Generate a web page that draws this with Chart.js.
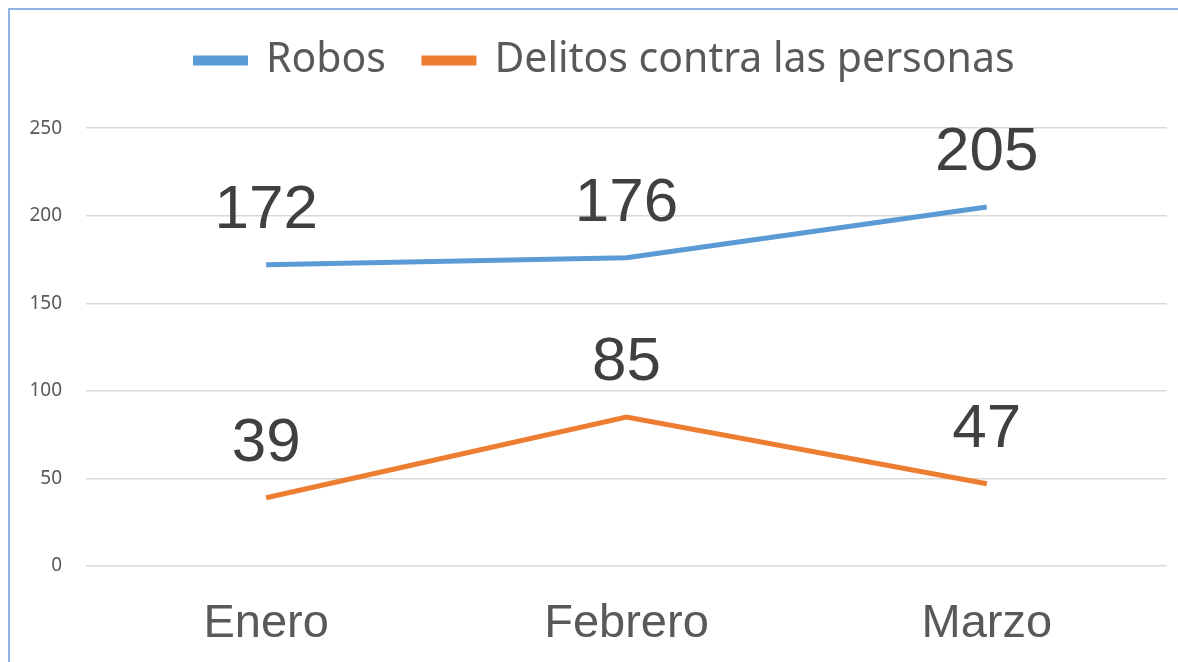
<!DOCTYPE html>
<html>
<head>
<meta charset="utf-8">
<script src="https://cdn.jsdelivr.net/npm/chart.js@4/dist/chart.umd.min.js"></script>
<style>
    html, body { margin: 0; padding: 0; background: #fff; overflow: hidden; }
    body { width: 1178px; height: 662px; position: relative; }
    .chart-box {
        position: absolute; left: 8px; top: 8px;
        width: 1190px; height: 680px;
        border: 2px solid #8db4e2;
    }
    canvas { display: block; }
</style>
</head>
<body>
<div class="chart-box">
    <canvas id="crimeChart" width="1190" height="680"></canvas>
</div>
<script>
const months = ['Enero', 'Febrero', 'Marzo'];
const robos = [172, 176, 205];
const delitosPersonas = [39, 85, 47];
const seriesNames = ['Robos', 'Delitos contra las personas'];
const seriesColors = ['#5b9bd5', '#ed7d31'];

// draws the big value labels above each point
const valueLabels = {
    id: 'valueLabels',
    afterDatasetsDraw(chart) {
        const ctx = chart.ctx;
        ctx.save();
        ctx.font = '62px "Liberation Sans", Arial, sans-serif';
        ctx.fillStyle = '#404040';
        ctx.textAlign = 'center';
        ctx.textBaseline = 'middle';
        chart.data.datasets.forEach((ds, i) => {
            chart.getDatasetMeta(i).data.forEach((pt, j) => {
                ctx.fillText(String(ds.data[j]), pt.x, pt.y - 54);
            });
        });
        ctx.restore();
    }
};

new Chart(document.getElementById('crimeChart'), {
    type: 'line',
    data: {
        labels: months,
        datasets: [
            {
                label: seriesNames[0],
                data: robos,
                borderColor: seriesColors[0],
                backgroundColor: seriesColors[0],
                borderWidth: 5,
                pointRadius: 0,
                tension: 0
            },
            {
                label: seriesNames[1],
                data: delitosPersonas,
                borderColor: seriesColors[1],
                backgroundColor: seriesColors[1],
                borderWidth: 5,
                pointRadius: 0,
                tension: 0
            }
        ]
    },
    options: {
        responsive: false,
        animation: false,
        layout: { padding: { top: -8, right: 0, bottom: 0, left: 0 } },
        plugins: {
            tooltip: { enabled: false },
            legend: {
                position: 'top',
                labels: {
                    boxWidth: 50,
                    boxHeight: 5,
                    padding: 38,
                    color: '#595959',
                    font: { family: '"Noto Sans", sans-serif', size: 41 }
                }
            },
            // empty subtitle under the legend, used as a spacer
            subtitle: {
                display: true,
                text: ' ',
                weight: 500,
                font: { size: 1 },
                padding: { top: 0, bottom: 36 }
            }
        },
        scales: {
            x: {
                offset: true,
                grid: { display: false, drawTicks: false },
                border: { display: false },
                ticks: {
                    color: '#595959',
                    padding: 30,
                    font: { family: '"Liberation Sans", Arial, sans-serif', size: 47 }
                },
                afterFit(scale) { scale.height = 124; }
            },
            y: {
                min: 0,
                max: 250,
                ticks: {
                    stepSize: 50,
                    color: '#595959',
                    padding: 24,
                    font: { family: '"Noto Sans", sans-serif', size: 19 }
                },
                grid: { color: '#d9d9d9', lineWidth: 1.5, drawTicks: false },
                border: { display: false },
                afterFit(scale) { scale.width = 76; }
            },
            // blank right-hand axis, only keeps the plot off the right edge
            yRight: {
                position: 'right',
                min: 0,
                max: 250,
                ticks: { display: false },
                grid: { display: false, drawTicks: false },
                border: { display: false },
                afterFit(scale) { scale.width = 33; }
            }
        }
    },
    plugins: [valueLabels]
});
</script>
</body>
</html>
